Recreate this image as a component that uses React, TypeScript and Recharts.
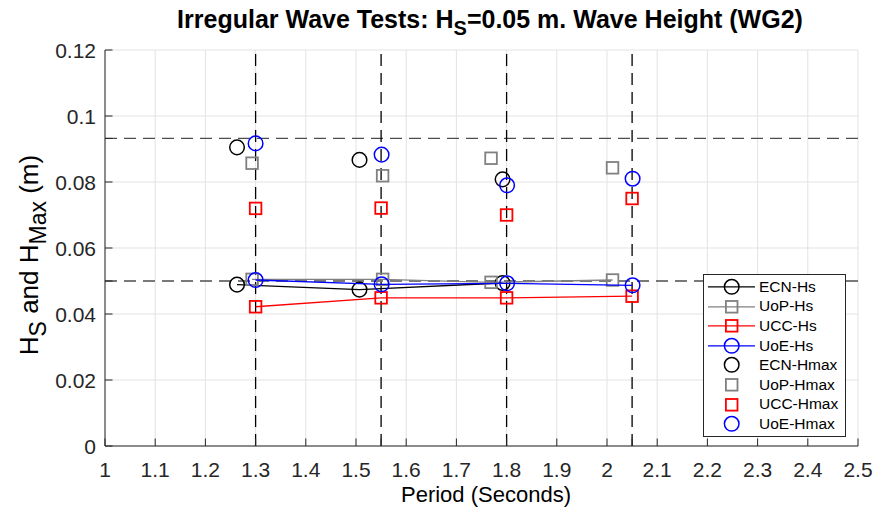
import React from "react";
import {
  ScatterChart,
  Scatter,
  XAxis,
  YAxis,
  CartesianGrid,
  ReferenceLine,
  Legend,
} from "recharts";

const FONT = '"Liberation Sans", Arial, Helvetica, sans-serif';
const AXIS = "#262626";

// axis ticks (labelled ones) and the target lines
const periodTicks = [1, 1.1, 1.2, 1.3, 1.4, 1.5, 1.6, 1.7, 1.8, 1.9, 2, 2.1, 2.2, 2.3, 2.4, 2.5];
const heightTicks = [0, 0.02, 0.04, 0.06, 0.08, 0.1, 0.12];
const targetPeriods = [1.3, 1.55, 1.8, 2.05];
const targetHeights = [0.05, 0.0932];

// ECN
const ecnPeriod = [1.263, 1.507, 1.792];
const ecnHs = [0.0489, 0.0474, 0.0494];
const ecnHmax = [0.0905, 0.0867, 0.0808];

// UoP
const uopPeriod = [1.293, 1.553, 1.769, 2.011];
const uopHs = [0.0505, 0.0505, 0.0496, 0.0503];
const uopHmax = [0.0857, 0.0819, 0.0872, 0.0843];

// UCC
const uccPeriod = [1.3, 1.55, 1.8, 2.05];
const uccHs = [0.0422, 0.0449, 0.0449, 0.0454];
const uccHmax = [0.072, 0.0721, 0.07, 0.075];

// UoE
const uoePeriod = [1.3, 1.551, 1.801, 2.051];
const uoeHs = [0.0503, 0.049, 0.0493, 0.0487];
const uoeHmax = [0.0917, 0.0883, 0.079, 0.081];

const toPoints = (xs: number[], ys: number[]) => ys.map((y, i) => ({ x: xs[i], y }));

const xTicks = [...periodTicks, 1.55, 2.05].sort((a, b) => a - b);
const yTicks = [...heightTicks, ...targetHeights].sort((a, b) => a - b);

const isMain = (list: number[], v: number) => list.some((t) => Math.abs(t - v) < 1e-9);

function makeTick(side: "bottom" | "top" | "left" | "right") {
  return (props: any) => {
    const { x, y, payload } = props;
    const v = payload.value;
    const len = 7.5;
    if (side === "bottom") {
      return (
        <g>
          <line x1={x} y1={y} x2={x} y2={y - len} stroke={AXIS} />
          {isMain(periodTicks, v) && (
            <text x={x} y={y + 31} textAnchor="middle" fill={AXIS} fontSize={21} fontFamily={FONT}>
              {String(v)}
            </text>
          )}
        </g>
      );
    }
    if (side === "top") return <line x1={x} y1={y} x2={x} y2={y + len} stroke={AXIS} />;
    if (side === "right") return <line x1={x} y1={y} x2={x - len} y2={y} stroke={AXIS} />;
    return (
      <g>
        <line x1={x} y1={y} x2={x + len} y2={y} stroke={AXIS} />
        {isMain(heightTicks, v) && (
          <text x={x - 9} y={y + 7.5} textAnchor="end" fill={AXIS} fontSize={21} fontFamily={FONT}>
            {String(v)}
          </text>
        )}
      </g>
    );
  };
}

const circle = (color: string) => (p: any) =>
  p.cx == null ? <g /> : <circle cx={p.cx} cy={p.cy} r={7.3} fill="none" stroke={color} strokeWidth={1.5} />;

const square = (color: string) => (p: any) =>
  p.cx == null ? (
    <g />
  ) : (
    <rect x={p.cx - 5.8} y={p.cy - 5.8} width={11.6} height={11.6} fill="none" stroke={color} strokeWidth={1.8} />
  );

const legendItems = [
  { name: "ECN-Hs", color: "#000000", marker: "circle", line: true },
  { name: "UoP-Hs", color: "#808080", marker: "square", line: true },
  { name: "UCC-Hs", color: "#ff0000", marker: "square", line: true },
  { name: "UoE-Hs", color: "#0000ff", marker: "circle", line: true },
  { name: "ECN-Hmax", color: "#000000", marker: "circle", line: false },
  { name: "UoP-Hmax", color: "#808080", marker: "square", line: false },
  { name: "UCC-Hmax", color: "#ff0000", marker: "square", line: false },
  { name: "UoE-Hmax", color: "#0000ff", marker: "circle", line: false },
];

function LegendBox() {
  return (
    <div
      style={{
        border: `1px solid ${AXIS}`,
        background: "#fff",
        padding: "2px 0",
        fontFamily: FONT,
        fontSize: 15.5,
        color: "#000",
      }}
    >
      {legendItems.map((it) => (
        <div key={it.name} style={{ display: "flex", alignItems: "center", height: 19.6 }}>
          <svg width={55} height={19.6} style={{ flex: "none" }}>
            {it.line && <line x1={4} y1={9.8} x2={51} y2={9.8} stroke={it.color} strokeWidth={1.3} />}
            {it.marker === "circle" ? (
              <circle cx={27.7} cy={9.8} r={7.3} fill="none" stroke={it.color} strokeWidth={1.5} />
            ) : (
              <rect x={21.9} y={4} width={11.6} height={11.6} fill="none" stroke={it.color} strokeWidth={1.8} />
            )}
          </svg>
          <span style={{ whiteSpace: "nowrap" }}>{it.name}</span>
        </div>
      ))}
    </div>
  );
}

// title and x label share the bottom axis label slot
const renderXLabel = () => (
  <g>
    <text x={490} y={28} textAnchor="middle" fontFamily={FONT} fontSize={25} fontWeight="bold" fill="#000">
      Irregular Wave Tests: H
      <tspan dy={7} fontSize={20}>S</tspan>
      <tspan dy={-7}>=0.05 m. Wave Height (WG2)</tspan>
    </text>
    <text x={486} y={502} textAnchor="middle" fontFamily={FONT} fontSize={22} fill="#000">
      Period (Seconds)
    </text>
  </g>
);

const renderYLabel = () => (
  <text
    x={38}
    y={255}
    textAnchor="middle"
    fontFamily={FONT}
    fontSize={26}
    fill="#000"
    transform="rotate(-90 38 255)"
  >
    H
    <tspan dy={8} fontSize={23}>S</tspan>
    <tspan dy={-8}> and H</tspan>
    <tspan dy={8} fontSize={23}>Max</tspan>
    <tspan dy={-8}> (m)</tspan>
  </text>
);

export default function App() {
  return (
    <div style={{ position: "absolute", left: 0, top: 0, width: 878, height: 514, background: "#fff" }}>
      <ScatterChart width={878} height={514} margin={{ top: 50, right: 20, bottom: 28, left: 30 }}>
        <CartesianGrid
          stroke="#e3e3e3"
          strokeWidth={1}
          horizontalValues={heightTicks}
          verticalValues={periodTicks}
        />
        <XAxis
          type="number"
          dataKey="x"
          domain={[1, 2.5]}
          ticks={xTicks}
          interval={0}
          height={40}
          tickSize={0}
          tickMargin={0}
          tick={makeTick("bottom")}
          axisLine={{ stroke: AXIS }}
          tickLine={false}
          label={renderXLabel}
        />
        <XAxis
          xAxisId="top"
          orientation="top"
          type="number"
          domain={[1, 2.5]}
          ticks={xTicks}
          interval={0}
          height={0}
          tickSize={0}
          tickMargin={0}
          tick={makeTick("top")}
          axisLine={{ stroke: AXIS }}
          tickLine={false}
        />
        <YAxis
          type="number"
          dataKey="y"
          domain={[0, 0.12]}
          ticks={yTicks}
          interval={0}
          width={75}
          tickSize={0}
          tickMargin={0}
          tick={makeTick("left")}
          axisLine={{ stroke: AXIS }}
          tickLine={false}
          label={renderYLabel}
        />
        <YAxis
          yAxisId="right"
          orientation="right"
          type="number"
          domain={[0, 0.12]}
          ticks={yTicks}
          interval={0}
          width={0}
          tickSize={0}
          tickMargin={0}
          tick={makeTick("right")}
          axisLine={{ stroke: AXIS }}
          tickLine={false}
        />
        {targetHeights.map((h) => (
          <ReferenceLine key={`h${h}`} y={h} stroke="#4d4d4d" strokeWidth={1.3} strokeDasharray="12 7" />
        ))}
        {targetPeriods.map((p) => (
          <ReferenceLine key={`p${p}`} x={p} stroke="#000" strokeWidth={1.3} strokeDasharray="12 7" />
        ))}
        <Scatter
          name="ECN-Hs"
          data={toPoints(ecnPeriod, ecnHs)}
          line={{ stroke: "#000000", strokeWidth: 1.3, fill: "none" }}
          shape={circle("#000000")}
          isAnimationActive={false}
        />
        <Scatter
          name="UoP-Hs"
          data={toPoints(uopPeriod, uopHs)}
          line={{ stroke: "#808080", strokeWidth: 1.3, fill: "none" }}
          shape={square("#808080")}
          isAnimationActive={false}
        />
        <Scatter
          name="UCC-Hs"
          data={toPoints(uccPeriod, uccHs)}
          line={{ stroke: "#ff0000", strokeWidth: 1.3, fill: "none" }}
          shape={square("#ff0000")}
          isAnimationActive={false}
        />
        <Scatter
          name="UoE-Hs"
          data={toPoints(uoePeriod, uoeHs)}
          line={{ stroke: "#0000ff", strokeWidth: 1.3, fill: "none" }}
          shape={circle("#0000ff")}
          isAnimationActive={false}
        />
        <Scatter name="ECN-Hmax" data={toPoints(ecnPeriod, ecnHmax)} shape={circle("#000000")} isAnimationActive={false} />
        <Scatter name="UoP-Hmax" data={toPoints(uopPeriod, uopHmax)} shape={square("#808080")} isAnimationActive={false} />
        <Scatter name="UCC-Hmax" data={toPoints(uccPeriod, uccHmax)} shape={square("#ff0000")} isAnimationActive={false} />
        <Scatter name="UoE-Hmax" data={toPoints(uoePeriod, uoeHmax)} shape={circle("#0000ff")} isAnimationActive={false} />
        <Legend
          layout="vertical"
          align="center"
          verticalAlign="middle"
          content={() => <LegendBox />}
          wrapperStyle={{ position: "absolute", left: 703, top: 274, width: 143, height: "auto" }}
        />
      </ScatterChart>
    </div>
  );
}
